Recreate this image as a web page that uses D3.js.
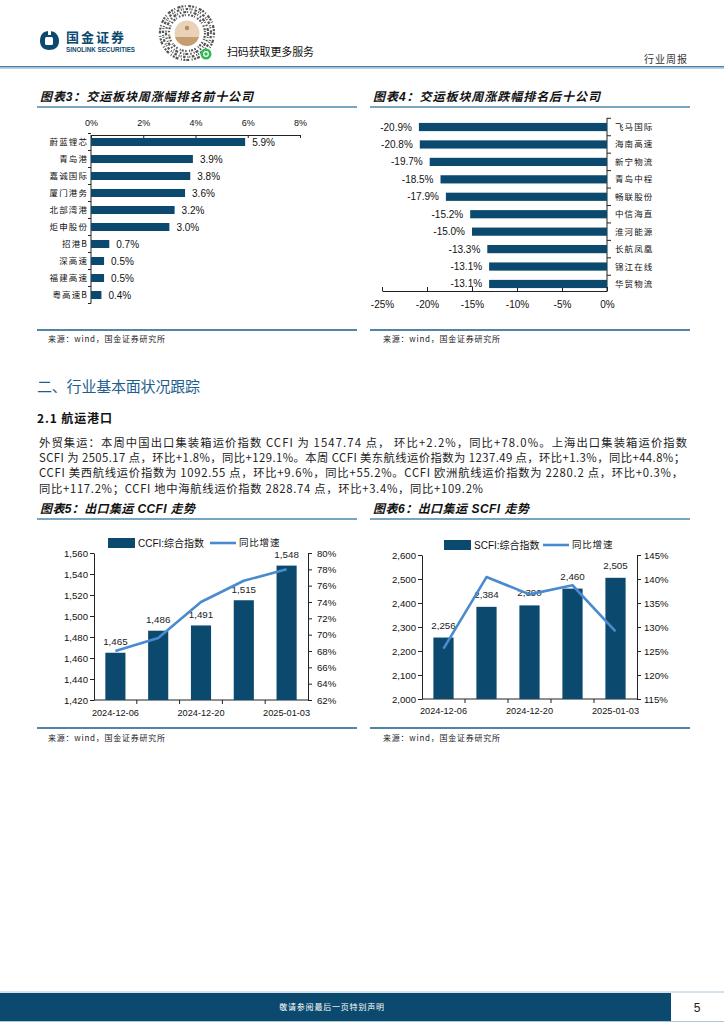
<!DOCTYPE html>
<html><head><meta charset="utf-8">
<script src="https://cdn.jsdelivr.net/npm/d3@7"></script>
<style>body{margin:0;background:#fff} svg{display:block}</style>
</head><body><svg id="c" width="724" height="1024"></svg>
<script>
// ---------- data ----------
const top10Names = ["蔚蓝锂芯","青岛港","嘉诚国际","厦门港务","北部湾港","炬申股份","招港B","深高速","福建高速","粤高速B"];
const top10Values = [5.9,3.9,3.8,3.6,3.2,3.0,0.7,0.5,0.5,0.4];
const top10Ticks = [0,2,4,6,8];
const bottom10Names = ["飞马国际","海南高速","新宁物流","青岛中程","畅联股份","中信海直","淮河能源","长航凤凰","锦江在线","华贸物流"];
const bottom10Values = [-20.9,-20.8,-19.7,-18.5,-17.9,-15.2,-15.0,-13.3,-13.1,-13.1];
const bottom10Ticks = [-25,-20,-15,-10,-5,0];
const weeks = ["2024-12-06","2024-12-13","2024-12-20","2024-12-27","2025-01-03"];
const weekLabels = ["2024-12-06","2024-12-20","2025-01-03"];
const ccfiIndex = [1465,1486,1491,1515,1548];
const ccfiYoY = [68.0,69.6,74.0,76.6,78.0];
const ccfiLeftTicks = [1420,1440,1460,1480,1500,1520,1540,1560];
const ccfiRightTicks = [62,64,66,68,70,72,74,76,78,80];
const scfiIndex = [2256,2384,2390,2460,2505];
const scfiYoY = [125.5,140.4,136.8,138.7,129.1];
const scfiLeftTicks = [2000,2100,2200,2300,2400,2500,2600];
const scfiRightTicks = [115,120,125,130,135,140,145];
const paragraph = [
 "外贸集运：本周中国出口集装箱运价指数 CCFI 为 1547.74 点， 环比+2.2%，同比+78.0%。上海出口集装箱运价指数",
 "SCFI 为 2505.17 点，环比+1.8%，同比+129.1%。本周 CCFI 美东航线运价指数为 1237.49 点，环比+1.3%，同比+44.8%；",
 "CCFI 美西航线运价指数为 1092.55 点，环比+9.6%，同比+55.2%。CCFI 欧洲航线运价指数为 2280.2 点，环比+0.3%，",
 "同比+117.2%；CCFI 地中海航线运价指数 2828.74 点，环比+3.4%，同比+109.2%"
];

// ---------- styles ----------
const BAR = "#0b4a6e", LINE = "#4a8bd0", RULE = "#4f86a8", HEAD = "#1d5e8e";
const LAT = "'Liberation Sans', Arial, 'Noto Sans CJK SC', sans-serif";
const CJK = "'Noto Sans CJK SC', sans-serif";

const svg = d3.select("#c");
svg.append("rect").attr("width",724).attr("height",1024).attr("fill","#fff");

// ---------- header ----------
const hd = svg.append("g");
hd.append("path").attr("d","M49,31 C56,31 59,36 59,41 C59,47 55,50 49,50 C43,50 40,46 40,41 C40,35 43,31 49,31 Z").attr("fill",BAR);
hd.append("rect").attr("x",45).attr("y",37).attr("width",8).attr("height",8).attr("rx",1.5).attr("fill","#fff");
hd.append("rect").attr("x",48).attr("y",30).attr("width",3).attr("height",5).attr("fill","#fff");
hd.append("text").attr("x",66).attr("y",41.5).attr("font-family",CJK).attr("font-weight","bold").attr("font-size",13)
  .attr("fill",BAR).attr("textLength",58).text("国金证券");
hd.append("text").attr("x",66).attr("y",51.5).attr("font-family",LAT).attr("font-weight","bold").attr("font-size",6.3)
  .attr("fill",BAR).attr("textLength",69).attr("lengthAdjust","spacingAndGlyphs").text("SINOLINK SECURITIES");
// mini-program code
const qr = hd.append("g").attr("transform","translate(187,33)");
[[27,"2 1.5 1 2.5 3 1"],[24,"1 2 2.5 1.5 1 1"],[21,"3 1 1 2 1.5 2"],[18,"1.5 1.5 2 1 1 2.5"]].forEach(([r,da])=>{
  qr.append("circle").attr("r",r).attr("fill","none").attr("stroke","#555").attr("stroke-width",2.2).attr("stroke-dasharray",da);
});
qr.append("circle").attr("r",14).attr("fill","#fff");
qr.append("circle").attr("r",12.5).attr("fill","#ead2b8");
qr.append("path").attr("d","M-12,4 A12.5,12.5 0 0 0 12,4 Z").attr("fill","#c79c73");
qr.append("circle").attr("cy",-5).attr("r",2.2).attr("fill","#b88a5e");
qr.append("circle").attr("cx",19).attr("cy",21).attr("r",5.5).attr("fill","#2dbb4f");
qr.append("circle").attr("cx",19).attr("cy",21).attr("r",2.3).attr("fill","none").attr("stroke","#fff").attr("stroke-width",1.2);
hd.append("text").attr("x",227).attr("y",56).attr("font-family",CJK).attr("font-size",11).attr("fill","#111")
  .attr("textLength",87).text("扫码获取更多服务");
hd.append("text").attr("x",644).attr("y",63).attr("font-family",CJK).attr("font-size",10).attr("fill","#333")
  .attr("letter-spacing",1).text("行业周报");
hd.append("line").attr("x1",0).attr("x2",724).attr("y1",66.8).attr("y2",66.8).attr("stroke","#4a7ea3").attr("stroke-width",1.6);
hd.append("line").attr("x1",0).attr("x2",724).attr("y1",68.3).attr("y2",68.3).attr("stroke","#a9c6da").attr("stroke-width",1);

// ---------- helpers ----------
function title(x, y, w, txt, x1, x2, ly) {
  svg.append("text").attr("x",x).attr("y",y).attr("font-family",LAT).attr("font-size",12).attr("font-weight","bold")
    .attr("font-style","italic").attr("fill","#111").attr("textLength",w).attr("lengthAdjust","spacing").text(txt);
  svg.append("line").attr("x1",x1).attr("x2",x2).attr("y1",ly).attr("y2",ly).attr("stroke",RULE).attr("stroke-width",1.5);
}
function source(x, y, x1, x2, ly) {
  svg.append("line").attr("x1",x1).attr("x2",x2).attr("y1",ly).attr("y2",ly).attr("stroke",RULE).attr("stroke-width",1.8);
  svg.append("text").attr("x",x).attr("y",y).attr("font-family",CJK).attr("font-size",8).attr("fill","#222")
    .attr("textLength",117).attr("lengthAdjust","spacing").text("来源：wind，国金证券研究所");
}
function styleAxis(a) {
  a.select(".domain").attr("stroke","#222");
  a.selectAll(".tick line").attr("stroke","#222");
  a.selectAll(".tick text").attr("fill","#111");
}

// ---------- chart 3 ----------
title(40,101,213,"图表3：交运板块周涨幅排名前十公司",37,357,107);
{
  const g = svg.append("g");
  const x = d3.scaleLinear().domain([0,8]).range([91,300]);
  const y = d3.scaleBand().domain(top10Names).range([133.5,303.5]).paddingInner(0.53).paddingOuter(0.265);
  const ax = g.append("g").attr("transform","translate(0,135)")
    .call(d3.axisTop(x).tickValues(top10Ticks).tickFormat(d=>d+"%").tickSizeInner(-3).tickSizeOuter(0).tickPadding(9));
  ax.attr("font-family",LAT).attr("font-size",9);
  styleAxis(ax);
  g.append("line").attr("x1",91).attr("x2",91).attr("y1",135).attr("y2",303.5).attr("stroke","#222");
  const half = y.step()*y.paddingInner()/2;
  top10Names.forEach(n=>{
    const yy = y(n) - half;
    g.append("line").attr("x1",88).attr("x2",91).attr("y1",yy).attr("y2",yy).attr("stroke","#222");
  });
  g.append("line").attr("x1",88).attr("x2",91).attr("y1",303.5).attr("y2",303.5).attr("stroke","#222");
  g.selectAll(".bar").data(top10Values).join("rect")
    .attr("x",x(0)).attr("y",(d,i)=>y(top10Names[i])).attr("width",d=>x(d)-x(0)).attr("height",y.bandwidth()).attr("fill",BAR);
  g.selectAll(".val").data(top10Values).join("text")
    .attr("x",d=>x(d)+7).attr("y",(d,i)=>y(top10Names[i])+y.bandwidth()/2).attr("dy","0.35em")
    .attr("font-family",LAT).attr("font-size",10).attr("fill","#111").text(d=>d.toFixed(1)+"%");
  g.selectAll(".cat").data(top10Names).join("text")
    .attr("x",88).attr("y",d=>y(d)+y.bandwidth()/2).attr("dy","0.35em").attr("text-anchor","end")
    .attr("font-family",CJK).attr("font-size",8.5).attr("letter-spacing",1.1).attr("fill","#111").text(d=>d);
}
source(48,342,37,357,330);

// ---------- chart 4 ----------
title(373,101,227,"图表4：交运板块周涨跌幅排名后十公司",370,690,107);
{
  const g = svg.append("g");
  const x = d3.scaleLinear().domain([-25,0]).range([382,607]);
  const y = d3.scaleBand().domain(bottom10Names).range([118.3,292.7]).paddingInner(0.53).paddingOuter(0.265);
  const ax = g.append("g").attr("transform","translate(0,291)")
    .call(d3.axisBottom(x).tickValues(bottom10Ticks).tickFormat(d=>d+"%").tickSizeInner(-4).tickSizeOuter(0).tickPadding(10));
  ax.attr("font-family",LAT).attr("font-size",10);
  styleAxis(ax);
  g.append("line").attr("x1",607).attr("x2",607).attr("y1",118).attr("y2",291).attr("stroke","#222");
  const half = y.step()*y.paddingInner()/2;
  bottom10Names.forEach(n=>{
    const yy = y(n) - half;
    g.append("line").attr("x1",607).attr("x2",611).attr("y1",yy).attr("y2",yy).attr("stroke","#222");
  });
  g.selectAll(".bar").data(bottom10Values).join("rect")
    .attr("x",d=>x(d)).attr("y",(d,i)=>y(bottom10Names[i])).attr("width",d=>x(0)-x(d)).attr("height",y.bandwidth()).attr("fill",BAR);
  g.selectAll(".val").data(bottom10Values).join("text")
    .attr("x",d=>x(d)-7).attr("y",(d,i)=>y(bottom10Names[i])+y.bandwidth()/2).attr("dy","0.35em").attr("text-anchor","end")
    .attr("font-family",LAT).attr("font-size",10).attr("fill","#111").text(d=>d.toFixed(1)+"%");
  g.selectAll(".cat").data(bottom10Names).join("text")
    .attr("x",615).attr("y",d=>y(d)+y.bandwidth()/2).attr("dy","0.35em")
    .attr("font-family",CJK).attr("font-size",8.5).attr("letter-spacing",1.1).attr("fill","#111").text(d=>d);
}
source(383,342,370,690,330);

// ---------- section text ----------
svg.append("text").attr("x",37).attr("y",392).attr("font-family",CJK).attr("font-size",15).attr("fill",HEAD)
  .attr("textLength",163).text("二、行业基本面状况跟踪");
svg.append("text").attr("x",37).attr("y",423).attr("font-family",CJK).attr("font-size",12).attr("font-weight","bold")
  .attr("fill","#111").attr("textLength",75).text("2.1 航运港口");
const paraEnd = [648,646,644,444];
paragraph.forEach((t,i)=>{
  svg.append("text").attr("x",39).attr("y",447+i*15.2).attr("font-family",CJK).attr("font-size",11.3).attr("fill","#222")
    .attr("textLength",paraEnd[i]).attr("lengthAdjust","spacing").text(t);
});

// ---------- dual charts ----------
function dual(c) {
  const g = svg.append("g");
  const x = d3.scaleBand().domain(weeks).range([c.left,c.right]).paddingInner(0.53).paddingOuter(0.265);
  const yl = d3.scaleLinear().domain(c.lDom).range([c.bottom,c.top]);
  const yr = d3.scaleLinear().domain(c.rDom).range([c.bottom,c.top]);
  const axL = g.append("g").attr("transform",`translate(${c.left},0)`)
    .call(d3.axisLeft(yl).tickValues(c.lTicks).tickFormat(d3.format(",")).tickSizeInner(4).tickSizeOuter(0).tickPadding(c.lPad));
  const axR = g.append("g").attr("transform",`translate(${c.right},0)`)
    .call(d3.axisRight(yr).tickValues(c.rTicks).tickFormat(d=>d+"%").tickSizeInner(4).tickSizeOuter(0).tickPadding(c.rPad));
  [axL,axR].forEach(a=>{ a.attr("font-family",LAT).attr("font-size",9.6); styleAxis(a); });
  g.append("line").attr("x1",c.left).attr("x2",c.right).attr("y1",c.bottom).attr("y2",c.bottom).attr("stroke","#222");
  const half = x.step()*x.paddingInner()/2;
  weeks.slice(1).forEach(w=>{
    const xx = x(w) - half;
    g.append("line").attr("x1",xx).attr("x2",xx).attr("y1",c.bottom).attr("y2",c.bottom+4).attr("stroke","#222");
  });
  g.selectAll(".xl").data(weekLabels).join("text")
    .attr("x",d=>x(d)+x.bandwidth()/2).attr("y",c.bottom+c.xlOff).attr("text-anchor","middle")
    .attr("font-family",LAT).attr("font-size",9.2).attr("fill","#111").text(d=>d);
  g.selectAll(".bar").data(c.bars).join("rect")
    .attr("x",(d,i)=>x(weeks[i])).attr("y",d=>yl(d)).attr("width",x.bandwidth()).attr("height",d=>c.bottom-yl(d)).attr("fill",BAR);
  g.selectAll(".dl").data(c.bars).join("text")
    .attr("x",(d,i)=>x(weeks[i])+x.bandwidth()/2).attr("y",d=>yl(d)-c.dlOff).attr("text-anchor","middle")
    .attr("font-family",LAT).attr("font-size",9.8).attr("fill","#222").text(d=>d3.format(",")(d));
  const ln = d3.line().x((d,i)=>x(weeks[i])+x.bandwidth()/2).y(d=>yr(d));
  g.append("path").attr("d",ln(c.yoy)).attr("fill","none").attr("stroke",LINE).attr("stroke-width",2.6).attr("stroke-linejoin","round");
  // legend
  const L = c.legend;
  g.append("rect").attr("x",L.rx).attr("y",L.y-5).attr("width",27).attr("height",10).attr("fill",BAR);
  g.append("text").attr("x",L.rx+30).attr("y",L.y).attr("dy","0.35em").attr("font-family",LAT).attr("font-size",10)
    .attr("fill","#111").text(c.name);
  g.append("line").attr("x1",L.lx).attr("x2",L.lx+26).attr("y1",L.y).attr("y2",L.y).attr("stroke",LINE).attr("stroke-width",2.6);
  g.append("text").attr("x",L.lx+29).attr("y",L.y).attr("dy","0.35em").attr("font-family",CJK).attr("font-size",9.5)
    .attr("letter-spacing",0.8).attr("fill","#111").text("同比增速");
}

title(40,513,155,"图表5：出口集运 CCFI 走势",37,357,519);
dual({left:94,right:308,top:553,bottom:700,lDom:[1420,1560],rDom:[62,80],lTicks:ccfiLeftTicks,rTicks:ccfiRightTicks,
  lPad:2,rPad:5,xlOff:16,dlOff:7.5,bars:ccfiIndex,yoy:ccfiYoY,name:"CCFI:综合指数",legend:{rx:108,lx:210,y:543}});
source(48,741,37,357,728);

title(373,513,156,"图表6：出口集运 SCFI 走势",370,690,519);
dual({left:422,right:637,top:555,bottom:699,lDom:[2000,2600],rDom:[115,145],lTicks:scfiLeftTicks,rTicks:scfiRightTicks,
  lPad:2,rPad:3,xlOff:15,dlOff:9,bars:scfiIndex,yoy:scfiYoY,name:"SCFI:综合指数",legend:{rx:444,lx:543,y:545}});
source(383,741,370,690,728);

// ---------- footer ----------
svg.append("line").attr("x1",0).attr("x2",724).attr("y1",992).attr("y2",992).attr("stroke","#a9c6da").attr("stroke-width",1);
svg.append("rect").attr("x",0).attr("y",993).attr("width",671).attr("height",28).attr("fill",BAR);
svg.append("line").attr("x1",0).attr("x2",724).attr("y1",1021.5).attr("y2",1021.5).attr("stroke","#a9c6da").attr("stroke-width",1);
svg.append("text").attr("x",332).attr("y",1010).attr("text-anchor","middle").attr("font-family",CJK).attr("font-size",8)
  .attr("letter-spacing",0.8).attr("fill","#fff").text("敬请参阅最后一页特别声明");
svg.append("text").attr("x",697).attr("y",1012).attr("text-anchor","middle").attr("font-family",LAT).attr("font-size",12)
  .attr("fill","#222").text("5");
</script></body></html>
